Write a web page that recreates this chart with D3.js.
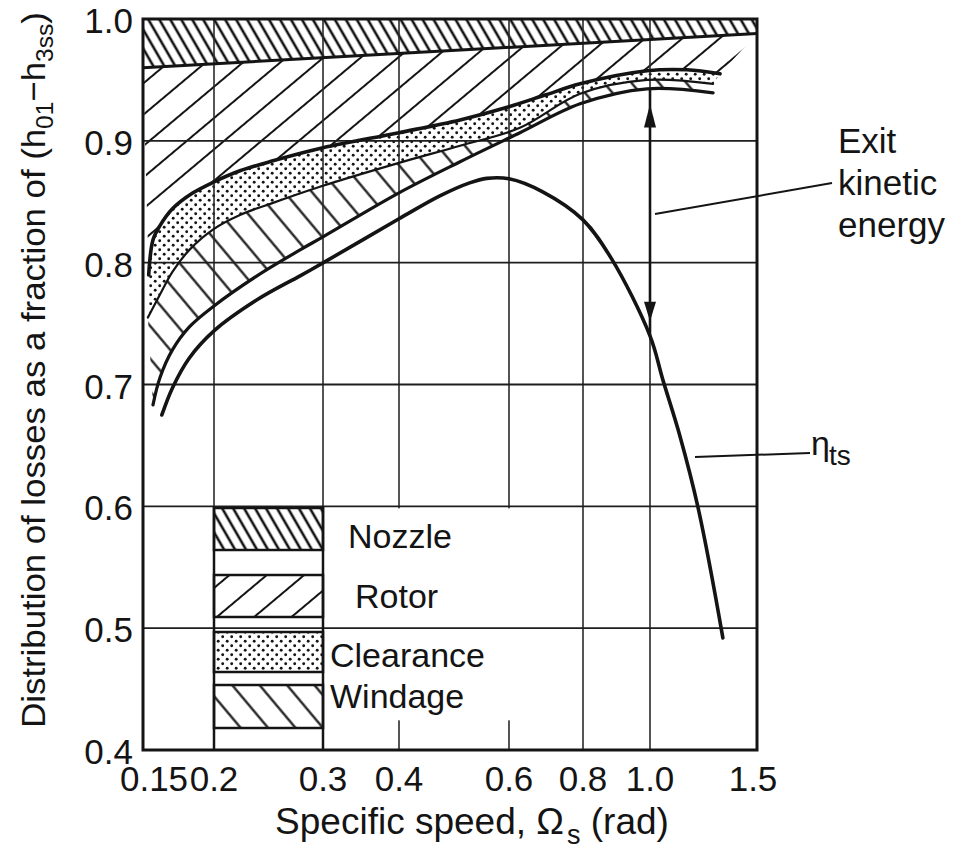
<!DOCTYPE html>
<html>
<head>
<meta charset="utf-8">
<script src="https://cdn.jsdelivr.net/npm/d3@7"></script>
<style>
body{margin:0;background:#fff}
svg{display:block}
text{font-family:"Liberation Sans",Arial,Helvetica,sans-serif;fill:#141414}
</style>
</head>
<body>
<div id="chart"></div>
<script>
// axis ticks
var xTicks = [0.15, 0.2, 0.3, 0.4, 0.6, 0.8, 1.0, 1.5];
var xTickLabels = ["0.15", "0.2", "0.3", "0.4", "0.6", "0.8", "1.0", "1.5"];
var yTicks = [0.4, 0.5, 0.6, 0.7, 0.8, 0.9, 1.0];
var yTickLabels = ["0.4", "0.5", "0.6", "0.7", "0.8", "0.9", "1.0"];

// lower edge of nozzle loss band (top is 1.0)
var nozzleEdge = [[0.15, 0.960], [1.5, 0.988]];
// lower edge of rotor loss = top of clearance loss
var clearanceTop = [[0.1535,0.790],[0.1562,0.8187],[0.1606,0.8302],[0.169,0.8442],[0.1837,0.8573],
  [0.2,0.8663],[0.2203,0.8754],[0.2491,0.8836],[0.3,0.8943],[0.4,0.9067],[0.501,0.9172],
  [0.6,0.928],[0.6925,0.9378],[0.791,0.9468],[0.99,0.9575],[1.15,0.9583],[1.304,0.955]];
// bottom of clearance = top of windage
var windageTop = [[0.153,0.755],[0.1606,0.7736],[0.169,0.7924],[0.181,0.8105],[0.2,0.8278],
  [0.2203,0.8392],[0.2491,0.8491],[0.3,0.8631],[0.4,0.8819],[0.501,0.896],[0.626,0.9107],
  [0.791,0.9386],[0.99,0.950],[1.27,0.9468]];
// bottom of windage
var windageBottom = [[0.1562,0.6833],[0.1606,0.7054],[0.169,0.7284],[0.181,0.7473],[0.2,0.7645],
  [0.2347,0.7892],[0.2755,0.8105],[0.3,0.8212],[0.4,0.8573],[0.501,0.8828],[0.626,0.9066],
  [0.791,0.9304],[0.99,0.9427],[1.27,0.9394]];
// total-to-static efficiency
var etaTs = [[0.1619,0.675],[0.169,0.6972],[0.181,0.7218],[0.2,0.744],[0.2347,0.7695],
  [0.2755,0.7892],[0.3,0.7998],[0.4,0.836],[0.465,0.8548],[0.519,0.8655],[0.553,0.8692],
  [0.6,0.8688],[0.684,0.8581],[0.8,0.8351],[0.88,0.8031],[1.0,0.7399],[1.05,0.7038],
  [1.12,0.6578],[1.2,0.5987],[1.318,0.492]];

var legendNames = ["Nozzle", "Rotor", "Clearance", "Windage"];
var legendFills = ["nozzle", "rotor", "clearance", "windage"];

var W = 953, H = 850;
var svg = d3.select("#chart").append("svg").attr("width", W).attr("height", H);

var x = d3.scaleLog().domain(xTicks).range([143, 214, 323, 399, 509, 583, 650, 757]);
var y = d3.scaleLinear().domain([0.4, 1.0]).range([750, 19]);

var defs = svg.append("defs");
function hatch(id, angle, gap, width) {
  var p = defs.append("pattern").attr("id", id)
    .attr("patternUnits", "userSpaceOnUse")
    .attr("width", gap).attr("height", gap)
    .attr("patternTransform", "rotate(" + angle + ")");
  p.append("line").attr("x1", -1).attr("y1", gap / 2).attr("x2", gap + 1).attr("y2", gap / 2)
    .attr("stroke", "#141414").attr("stroke-width", width);
}
hatch("nozzle", 60, 9.5, 2.6);
hatch("rotor", -40, 24, 2);
hatch("windage", 50, 21, 2.2);
var dots = defs.append("pattern").attr("id", "clearance")
  .attr("patternUnits", "userSpaceOnUse").attr("width", 9).attr("height", 9);
dots.append("circle").attr("cx", 2.2).attr("cy", 2.2).attr("r", 1.45).attr("fill", "#141414");
dots.append("circle").attr("cx", 6.7).attr("cy", 6.7).attr("r", 1.45).attr("fill", "#141414");

var lineLin = d3.line().x(d => x(d[0])).y(d => y(d[1]));
var lineC = d3.line().x(d => x(d[0])).y(d => y(d[1])).curve(d3.curveCatmullRom.alpha(0.5));
function rev(a) { return a.slice().reverse(); }
function join(p1, p2) { return p1 + "L" + p2.slice(1) + "Z"; }

// bands
svg.append("path")
  .attr("d", join(lineLin(nozzleEdge), lineLin(rev(nozzleEdge).map(d => [d[0], 1.0]))))
  .attr("fill", "url(#nozzle)");
svg.append("path")
  .attr("d", join(lineLin(nozzleEdge), lineC(rev(clearanceTop))))
  .attr("fill", "url(#rotor)");
svg.append("path")
  .attr("d", join(lineC(clearanceTop), lineC(rev(windageTop))))
  .attr("fill", "url(#clearance)");
svg.append("path")
  .attr("d", join(lineC(windageTop), lineC(rev(windageBottom))))
  .attr("fill", "url(#windage)");

// vertical grid
svg.append("g").selectAll("line").data(xTicks.slice(1, -1)).enter().append("line")
  .attr("x1", d => x(d)).attr("x2", d => x(d))
  .attr("y1", y(1.0)).attr("y2", y(0.4))
  .attr("stroke", "#2a2a2a").attr("stroke-width", 1.6);

// legend background and label mask
svg.append("rect").attr("x", x(0.2)).attr("y", y(0.6))
  .attr("width", x(0.3) - x(0.2)).attr("height", y(0.4) - y(0.6)).attr("fill", "#fff");
svg.append("rect").attr("x", x(0.3) + 2).attr("y", y(0.6) + 2)
  .attr("width", 185).attr("height", 212).attr("fill", "#fff");

// horizontal grid
svg.append("g").selectAll("line").data(yTicks.slice(1, -1)).enter().append("line")
  .attr("x1", x(0.15)).attr("x2", x(1.5))
  .attr("y1", d => y(d)).attr("y2", d => y(d))
  .attr("stroke", "#1e1e1e").attr("stroke-width", 1.8);

// legend
var legTop = [508, 575, 632, 685];
var legH = [42, 42, 40, 43];
var legTextX = [348, 355, 330, 330];
var legTextY = [548, 608, 667, 708];
var leg = svg.append("g");
leg.selectAll("rect.sw").data(legendNames).enter().append("rect").attr("class", "sw")
  .attr("x", x(0.2)).attr("width", x(0.3) - x(0.2))
  .attr("y", (d, i) => legTop[i]).attr("height", (d, i) => legH[i])
  .attr("fill", (d, i) => "url(#" + legendFills[i] + ")")
  .attr("stroke", "#141414").attr("stroke-width", 2.5);
leg.append("line").attr("x1", x(0.2)).attr("x2", x(0.2)).attr("y1", y(0.6)).attr("y2", y(0.4))
  .attr("stroke", "#141414").attr("stroke-width", 2.5);
leg.append("line").attr("x1", x(0.3)).attr("x2", x(0.3)).attr("y1", y(0.6)).attr("y2", y(0.4))
  .attr("stroke", "#141414").attr("stroke-width", 2.5);
leg.selectAll("text").data(legendNames).enter().append("text")
  .attr("x", (d, i) => legTextX[i]).attr("y", (d, i) => legTextY[i])
  .attr("font-size", 34).text(d => d);

// curves
svg.append("path").attr("d", lineLin(nozzleEdge)).attr("fill", "none")
  .attr("stroke", "#141414").attr("stroke-width", 3);
[[clearanceTop, 3.6], [windageTop, 2.2], [windageBottom, 3.2], [etaTs, 3.6]].forEach(function (c) {
  svg.append("path").attr("d", lineC(c[0])).attr("fill", "none")
    .attr("stroke", "#141414").attr("stroke-width", c[1]).attr("stroke-linecap", "round");
});

// exit kinetic energy arrow at Ωs = 1.0
var arrowX = 1.0, arrowFrom = 0.9427, arrowTo = 0.74;
var ax = x(arrowX);
svg.append("line").attr("x1", ax).attr("x2", ax)
  .attr("y1", y(arrowFrom)).attr("y2", y(arrowTo))
  .attr("stroke", "#141414").attr("stroke-width", 2.6);
svg.append("path").attr("fill", "#141414")
  .attr("d", "M" + ax + "," + y(0.930) + "L" + (ax - 6) + "," + y(0.911) + "L" + (ax + 6) + "," + y(0.911) + "Z");
svg.append("path").attr("fill", "#141414")
  .attr("d", "M" + ax + "," + y(0.752) + "L" + (ax - 6) + "," + y(0.768) + "L" + (ax + 6) + "," + y(0.768) + "Z");

// annotations
svg.append("line").attr("x1", 655).attr("y1", 214).attr("x2", 832).attr("y2", 183)
  .attr("stroke", "#141414").attr("stroke-width", 2);
["Exit", "kinetic", "energy"].forEach(function (t, i) {
  svg.append("text").attr("x", 838).attr("y", 153 + i * 42).attr("font-size", 35).text(t);
});
svg.append("line").attr("x1", 695).attr("y1", 457).attr("x2", 810).attr("y2", 453)
  .attr("stroke", "#141414").attr("stroke-width", 2);
var eta = svg.append("text").attr("x", 811).attr("y", 455).attr("font-size", 34);
eta.append("tspan").text("η");
eta.append("tspan").attr("font-size", 28).attr("dy", 10).attr("dx", -1).text("ts");

// frame
svg.append("rect").attr("x", x(0.15)).attr("y", y(1.0))
  .attr("width", x(1.5) - x(0.15)).attr("height", y(0.4) - y(1.0))
  .attr("fill", "none").attr("stroke", "#141414").attr("stroke-width", 3);

// tick labels
var xLabelShift = [11, 0, 0, 0, 0, 0, 0, -4];
svg.append("g").selectAll("text").data(xTicks).enter().append("text")
  .attr("x", (d, i) => x(d) + xLabelShift[i]).attr("y", 791).attr("text-anchor", "middle")
  .attr("font-size", 35).text((d, i) => xTickLabels[i]);
svg.append("g").selectAll("text").data(yTicks).enter().append("text")
  .attr("x", 133).attr("y", d => y(d) + 14).attr("text-anchor", "end")
  .attr("font-size", 35).text((d, i) => yTickLabels[i]);

// axis titles
var xt = svg.append("text").attr("x", 472).attr("y", 834).attr("text-anchor", "middle").attr("font-size", 37);
xt.append("tspan").text("Specific speed,  Ω");
xt.append("tspan").attr("font-size", 27).attr("dy", 10).attr("dx", 3).text("s");
xt.append("tspan").attr("dy", -10).text(" (rad)");

var yt = svg.append("text").attr("text-anchor", "middle").attr("font-size", 34)
  .attr("transform", "translate(45,370) rotate(-90)");
yt.append("tspan").text("Distribution of losses as a fraction of (h");
yt.append("tspan").attr("font-size", 24).attr("dy", 8).text("01");
yt.append("tspan").attr("dy", -8).text("−h");
yt.append("tspan").attr("font-size", 24).attr("dy", 8).text("3ss");
yt.append("tspan").attr("dy", -8).text(")");
var len = yt.node().getComputedTextLength();
yt.attr("transform", "translate(45,370) rotate(-90) scale(" + (716 / len) + ",1)");
</script>
</body>
</html>
